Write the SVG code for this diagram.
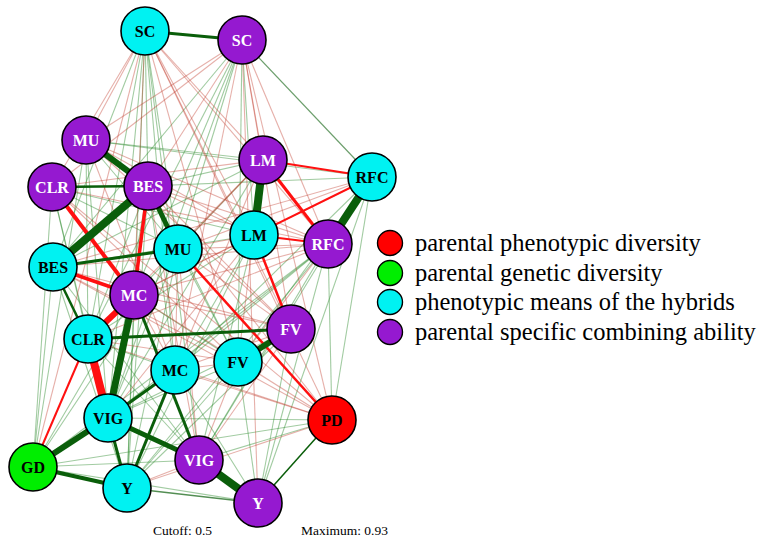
<svg xmlns="http://www.w3.org/2000/svg" width="765" height="549" viewBox="0 0 765 549">
<style>
.fg{stroke:#2e8b2e;stroke-opacity:.45;stroke-width:1.1;fill:none}
.fr{stroke:#c0392b;stroke-opacity:.4;stroke-width:1.1;fill:none}
.sg{stroke:#0a5e0a;fill:none}
.sr{stroke:#ff1010;fill:none}
.n circle{stroke:#000;stroke-width:1.6}
.cy{fill:#00f2f2}
.pu{fill:#9519d0}
.rd{fill:#ff0000}
.gr{fill:#00ee00}
.n text{font-family:"Liberation Serif","Times New Roman",serif;font-weight:bold;font-size:16px;text-anchor:middle}
.lk{fill:#000}
.lw{fill:#fff}
.leg text{font-family:"Liberation Serif","Times New Roman",serif;font-size:24.5px;fill:#000}
.ft{font-family:"Liberation Serif","Times New Roman",serif;font-size:13.5px;fill:#000}
</style>
<rect width="765" height="549" fill="#fff"/>
<g id="edges">
<g class="fg">
<line x1="145" y1="31" x2="148" y2="186"/><line x1="145" y1="31" x2="178" y2="249"/><line x1="145" y1="31" x2="88" y2="339"/><line x1="145" y1="31" x2="175" y2="370"/><line x1="145" y1="31" x2="108" y2="418"/><line x1="145" y1="31" x2="199" y2="460"/><line x1="145" y1="31" x2="127" y2="488"/><line x1="145" y1="31" x2="53" y2="267"/>
<line x1="242" y1="40" x2="53" y2="267"/><line x1="242" y1="40" x2="178" y2="249"/><line x1="242" y1="40" x2="134" y2="295"/><line x1="242" y1="40" x2="238" y2="362"/><line x1="242" y1="40" x2="108" y2="418"/><line x1="242" y1="40" x2="88" y2="339"/><line x1="242" y1="40" x2="254" y2="235"/>
<line x1="86" y1="140" x2="263" y2="160"/><line x1="86" y1="140" x2="372" y2="177"/><line x1="86" y1="140" x2="178" y2="249"/><line x1="86" y1="140" x2="88" y2="339"/><line x1="86" y1="140" x2="108" y2="418"/><line x1="86" y1="140" x2="33" y2="467"/>
<line x1="52" y1="187" x2="254" y2="235"/><line x1="52" y1="187" x2="88" y2="339"/><line x1="52" y1="187" x2="108" y2="418"/><line x1="52" y1="187" x2="33" y2="467"/><line x1="52" y1="187" x2="178" y2="249"/>
<line x1="148" y1="186" x2="263" y2="160"/><line x1="148" y1="186" x2="372" y2="177"/><line x1="148" y1="186" x2="238" y2="362"/><line x1="148" y1="186" x2="108" y2="418"/><line x1="148" y1="186" x2="88" y2="339"/><line x1="148" y1="186" x2="175" y2="370"/><line x1="148" y1="186" x2="127" y2="488"/>
<line x1="263" y1="160" x2="53" y2="267"/><line x1="263" y1="160" x2="134" y2="295"/><line x1="263" y1="160" x2="108" y2="418"/>
<line x1="372" y1="177" x2="175" y2="370"/><line x1="372" y1="177" x2="238" y2="362"/><line x1="372" y1="177" x2="332" y2="420"/><line x1="372" y1="177" x2="258" y2="503"/><line x1="372" y1="177" x2="199" y2="460"/>
<line x1="328" y1="244" x2="108" y2="418"/><line x1="328" y1="244" x2="127" y2="488"/><line x1="328" y1="244" x2="33" y2="467"/><line x1="328" y1="244" x2="258" y2="503"/><line x1="328" y1="244" x2="332" y2="420"/><line x1="328" y1="244" x2="175" y2="370"/><line x1="328" y1="244" x2="199" y2="460"/>
<line x1="254" y1="235" x2="53" y2="267"/><line x1="254" y1="235" x2="88" y2="339"/><line x1="254" y1="235" x2="175" y2="370"/><line x1="254" y1="235" x2="127" y2="488"/><line x1="254" y1="235" x2="199" y2="460"/>
<line x1="178" y1="249" x2="238" y2="362"/><line x1="178" y1="249" x2="108" y2="418"/><line x1="178" y1="249" x2="33" y2="467"/><line x1="178" y1="249" x2="127" y2="488"/>
<line x1="53" y1="267" x2="33" y2="467"/><line x1="53" y1="267" x2="127" y2="488"/><line x1="53" y1="267" x2="199" y2="460"/>
<line x1="134" y1="295" x2="238" y2="362"/><line x1="134" y1="295" x2="127" y2="488"/><line x1="134" y1="295" x2="33" y2="467"/>
<line x1="88" y1="339" x2="127" y2="488"/><line x1="88" y1="339" x2="175" y2="370"/><line x1="88" y1="339" x2="199" y2="460"/>
<line x1="291" y1="329" x2="127" y2="488"/><line x1="291" y1="329" x2="108" y2="418"/><line x1="291" y1="329" x2="258" y2="503"/>
<line x1="238" y1="362" x2="258" y2="503"/><line x1="238" y1="362" x2="127" y2="488"/><line x1="238" y1="362" x2="108" y2="418"/>
<line x1="332" y1="420" x2="108" y2="418"/><line x1="332" y1="420" x2="33" y2="467"/><line x1="332" y1="420" x2="199" y2="460"/>
<line x1="33" y1="467" x2="258" y2="503"/><line x1="33" y1="467" x2="199" y2="460"/><line x1="33" y1="467" x2="175" y2="370"/><line x1="175" y1="370" x2="258" y2="503"/>
</g>
<g class="fr">
<line x1="145" y1="31" x2="86" y2="140"/><line x1="145" y1="31" x2="52" y2="187"/><line x1="145" y1="31" x2="134" y2="295"/><line x1="145" y1="31" x2="263" y2="160"/><line x1="145" y1="31" x2="254" y2="235"/><line x1="145" y1="31" x2="291" y2="329"/><line x1="145" y1="31" x2="238" y2="362"/><line x1="145" y1="31" x2="328" y2="244"/><line x1="145" y1="31" x2="332" y2="420"/><line x1="145" y1="31" x2="33" y2="467"/>
<line x1="242" y1="40" x2="86" y2="140"/><line x1="242" y1="40" x2="52" y2="187"/><line x1="242" y1="40" x2="148" y2="186"/><line x1="242" y1="40" x2="263" y2="160"/><line x1="242" y1="40" x2="328" y2="244"/><line x1="242" y1="40" x2="291" y2="329"/><line x1="242" y1="40" x2="175" y2="370"/><line x1="242" y1="40" x2="332" y2="420"/><line x1="242" y1="40" x2="258" y2="503"/>
<line x1="86" y1="140" x2="328" y2="244"/><line x1="86" y1="140" x2="254" y2="235"/><line x1="86" y1="140" x2="291" y2="329"/><line x1="86" y1="140" x2="175" y2="370"/>
<line x1="52" y1="187" x2="263" y2="160"/><line x1="52" y1="187" x2="328" y2="244"/><line x1="52" y1="187" x2="238" y2="362"/><line x1="52" y1="187" x2="332" y2="420"/>
<line x1="148" y1="186" x2="328" y2="244"/><line x1="148" y1="186" x2="254" y2="235"/><line x1="148" y1="186" x2="291" y2="329"/><line x1="148" y1="186" x2="332" y2="420"/><line x1="148" y1="186" x2="199" y2="460"/>
<line x1="263" y1="160" x2="178" y2="249"/><line x1="263" y1="160" x2="88" y2="339"/><line x1="263" y1="160" x2="238" y2="362"/><line x1="263" y1="160" x2="175" y2="370"/>
<line x1="372" y1="177" x2="178" y2="249"/><line x1="372" y1="177" x2="53" y2="267"/><line x1="372" y1="177" x2="134" y2="295"/>
<line x1="328" y1="244" x2="178" y2="249"/><line x1="328" y1="244" x2="53" y2="267"/><line x1="328" y1="244" x2="134" y2="295"/><line x1="328" y1="244" x2="88" y2="339"/><line x1="328" y1="244" x2="238" y2="362"/>
<line x1="254" y1="235" x2="178" y2="249"/><line x1="254" y1="235" x2="134" y2="295"/><line x1="254" y1="235" x2="108" y2="418"/>
<line x1="178" y1="249" x2="291" y2="329"/><line x1="178" y1="249" x2="175" y2="370"/><line x1="178" y1="249" x2="199" y2="460"/>
<line x1="53" y1="267" x2="291" y2="329"/><line x1="53" y1="267" x2="238" y2="362"/><line x1="53" y1="267" x2="332" y2="420"/>
<line x1="134" y1="295" x2="291" y2="329"/><line x1="134" y1="295" x2="332" y2="420"/><line x1="134" y1="295" x2="175" y2="370"/>
<line x1="88" y1="339" x2="238" y2="362"/><line x1="88" y1="339" x2="332" y2="420"/>
<line x1="291" y1="329" x2="175" y2="370"/><line x1="291" y1="329" x2="199" y2="460"/><line x1="238" y1="362" x2="199" y2="460"/><line x1="238" y1="362" x2="175" y2="370"/>
<line x1="332" y1="420" x2="175" y2="370"/><line x1="332" y1="420" x2="127" y2="488"/><line x1="199" y1="460" x2="127" y2="488"/>
</g>
<g class="sr">
<line x1="52" y1="187" x2="134" y2="295" stroke-width="4"/>
<line x1="148" y1="186" x2="134" y2="295" stroke-width="3.5"/>
<line x1="53" y1="267" x2="134" y2="295" stroke-width="3.5"/>
<line x1="134" y1="295" x2="88" y2="339" stroke-width="6"/>
<line x1="88" y1="339" x2="108" y2="418" stroke-width="8"/>
<line x1="33" y1="467" x2="88" y2="339" stroke-width="2"/>
<line x1="178" y1="249" x2="332" y2="420" stroke-width="2.5"/>
<line x1="263" y1="160" x2="372" y2="177" stroke-width="2"/>
<line x1="263" y1="160" x2="328" y2="244" stroke-width="3"/>
<line x1="254" y1="235" x2="328" y2="244" stroke-width="2"/>
<line x1="254" y1="235" x2="372" y2="177" stroke-width="2"/>
<line x1="254" y1="235" x2="291" y2="329" stroke-width="2.5"/>
</g>
<g class="sg">
<line x1="145" y1="31" x2="242" y2="40" stroke-width="3"/>
<line x1="242" y1="40" x2="372" y2="177" stroke-width="1.2" stroke-opacity=".6"/>
<line x1="86" y1="140" x2="148" y2="186" stroke-width="6"/>
<line x1="148" y1="186" x2="178" y2="249" stroke-width="5"/>
<line x1="148" y1="186" x2="53" y2="267" stroke-width="8"/>
<line x1="263" y1="160" x2="254" y2="235" stroke-width="8"/>
<line x1="372" y1="177" x2="328" y2="244" stroke-width="8"/>
<line x1="52" y1="187" x2="148" y2="186" stroke-width="2.5"/>
<line x1="53" y1="267" x2="178" y2="249" stroke-width="3"/>
<line x1="53" y1="267" x2="88" y2="339" stroke-width="2.5"/>
<line x1="134" y1="295" x2="108" y2="418" stroke-width="7"/>
<line x1="88" y1="339" x2="291" y2="329" stroke-width="3"/>
<line x1="291" y1="329" x2="238" y2="362" stroke-width="6"/>
<line x1="134" y1="295" x2="199" y2="460" stroke-width="3"/>
<line x1="175" y1="370" x2="108" y2="418" stroke-width="3"/>
<line x1="175" y1="370" x2="127" y2="488" stroke-width="3"/>
<line x1="108" y1="418" x2="199" y2="460" stroke-width="5"/>
<line x1="108" y1="418" x2="127" y2="488" stroke-width="3"/>
<line x1="33" y1="467" x2="108" y2="418" stroke-width="6"/>
<line x1="33" y1="467" x2="127" y2="488" stroke-width="4"/>
<line x1="199" y1="460" x2="258" y2="503" stroke-width="8"/>
<line x1="332" y1="420" x2="258" y2="503" stroke-width="1.5"/>
<line x1="127" y1="488" x2="258" y2="503" stroke-width="1.5" stroke-opacity=".7"/>
</g>
</g>
<g id="SC_hyb" class="n"><circle class="cy" cx="145" cy="31" r="24"/><text class="lk" x="145" y="37">SC</text></g>
<g id="SC_sca" class="n"><circle class="pu" cx="242" cy="40" r="24"/><text class="lw" x="242" y="46">SC</text></g>
<g id="MU_sca" class="n"><circle class="pu" cx="86" cy="140" r="24"/><text class="lw" x="86" y="146">MU</text></g>
<g id="CLR_sca" class="n"><circle class="pu" cx="52" cy="187" r="24"/><text class="lw" x="52" y="193">CLR</text></g>
<g id="BES_sca" class="n"><circle class="pu" cx="148" cy="186" r="24"/><text class="lw" x="148" y="192">BES</text></g>
<g id="LM_sca" class="n"><circle class="pu" cx="263" cy="160" r="24"/><text class="lw" x="263" y="166">LM</text></g>
<g id="RFC_hyb" class="n"><circle class="cy" cx="372" cy="177" r="24"/><text class="lk" x="372" y="183">RFC</text></g>
<g id="LM_hyb" class="n"><circle class="cy" cx="254" cy="235" r="24"/><text class="lk" x="254" y="241">LM</text></g>
<g id="RFC_sca" class="n"><circle class="pu" cx="328" cy="244" r="24"/><text class="lw" x="328" y="250">RFC</text></g>
<g id="MU_hyb" class="n"><circle class="cy" cx="178" cy="249" r="24"/><text class="lk" x="178" y="255">MU</text></g>
<g id="BES_hyb" class="n"><circle class="cy" cx="53" cy="267" r="24"/><text class="lk" x="53" y="273">BES</text></g>
<g id="MC_sca" class="n"><circle class="pu" cx="134" cy="295" r="24"/><text class="lw" x="134" y="301">MC</text></g>
<g id="CLR_hyb" class="n"><circle class="cy" cx="88" cy="339" r="24"/><text class="lk" x="88" y="345">CLR</text></g>
<g id="FV_sca" class="n"><circle class="pu" cx="291" cy="329" r="24"/><text class="lw" x="291" y="335">FV</text></g>
<g id="FV_hyb" class="n"><circle class="cy" cx="238" cy="362" r="24"/><text class="lk" x="238" y="368">FV</text></g>
<g id="MC_hyb" class="n"><circle class="cy" cx="175" cy="370" r="24"/><text class="lk" x="175" y="376">MC</text></g>
<g id="VIG_hyb" class="n"><circle class="cy" cx="108" cy="418" r="24"/><text class="lk" x="108" y="424">VIG</text></g>
<g id="PD" class="n"><circle class="rd" cx="332" cy="420" r="24"/><text class="lk" x="332" y="426">PD</text></g>
<g id="GD" class="n"><circle class="gr" cx="33" cy="467" r="24"/><text class="lk" x="33" y="473">GD</text></g>
<g id="VIG_sca" class="n"><circle class="pu" cx="199" cy="460" r="24"/><text class="lw" x="199" y="466">VIG</text></g>
<g id="Y_hyb" class="n"><circle class="cy" cx="127" cy="488" r="24"/><text class="lk" x="127" y="494">Y</text></g>
<g id="Y_sca" class="n"><circle class="pu" cx="258" cy="503" r="24"/><text class="lw" x="258" y="509">Y</text></g>
<g id="legend" class="leg">
<circle class="rd" cx="390" cy="243" r="12.5" stroke="#000" stroke-width="1.4"/>
<text x="415" y="251">parental phenotypic diversity</text>
<circle class="gr" cx="390" cy="273" r="12.5" stroke="#000" stroke-width="1.4"/>
<text x="415" y="281">parental genetic diversity</text>
<circle class="cy" cx="390" cy="302" r="12.5" stroke="#000" stroke-width="1.4"/>
<text x="415" y="310">phenotypic means of the hybrids</text>
<circle class="pu" cx="390" cy="332" r="12.5" stroke="#000" stroke-width="1.4"/>
<text x="415" y="340">parental specific combining ability</text>
</g>
<text class="ft" x="153" y="535">Cutoff: 0.5</text>
<text class="ft" x="301" y="535">Maximum: 0.93</text>
</svg>
